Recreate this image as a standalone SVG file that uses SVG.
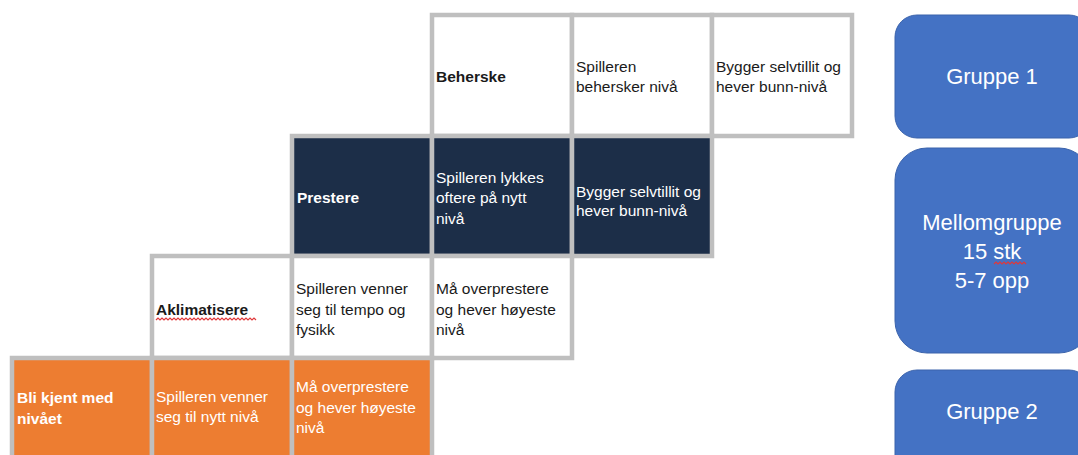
<svg xmlns="http://www.w3.org/2000/svg" width="1078" height="455" viewBox="0 0 1078 455">
<style>
.cell{stroke:#bfbfbf;stroke-width:4.5}
.w{fill:#ffffff}
.d{fill:#1c2e48}
.o{fill:#ed7d31}
.t{font-family:"Liberation Sans",Arial,sans-serif;font-size:15.5px}
.b{font-weight:bold}
.k{fill:#1a1a1a}
.wt{fill:#ffffff}
.grp{fill:#4472c4;stroke:#3b63ab;stroke-width:1}
.gt{font-family:"Liberation Sans",Arial,sans-serif;font-size:22px;fill:#ffffff;text-anchor:middle}
.wave{fill:none;stroke:#e0383a;stroke-width:1.2}
</style>
<rect width="1078" height="455" fill="#ffffff"/>

<!-- Row 1 -->
<g id="beherske"><rect class="cell w" x="432" y="15" width="140" height="121"/>
<text class="t b k" x="436" y="82">Beherske</text></g>
<g id="r1c2"><rect class="cell w" x="572" y="15" width="140" height="121"/>
<text class="t k" x="576" y="72">Spilleren</text><text class="t k" x="576" y="92">behersker nivå</text></g>
<g id="r1c3"><rect class="cell w" x="712" y="15" width="140" height="121"/>
<text class="t k" x="716" y="72">Bygger selvtillit og</text><text class="t k" x="716" y="92">hever bunn-nivå</text></g>

<!-- Row 2 -->
<g id="prestere"><rect class="cell d" x="292" y="136" width="140" height="120"/>
<text class="t b wt" x="297" y="203">Prestere</text></g>
<g id="r2c2"><rect class="cell d" x="432" y="136" width="140" height="120"/>
<text class="t wt" x="436" y="183">Spilleren lykkes</text><text class="t wt" x="436" y="203">oftere på nytt</text><text class="t wt" x="436" y="224">nivå</text></g>
<g id="r2c3"><rect class="cell d" x="572" y="136" width="140" height="120"/>
<text class="t wt" x="576" y="197">Bygger selvtillit og</text><text class="t wt" x="576" y="216">hever bunn-nivå</text></g>

<!-- Row 3 -->
<g id="aklimatisere"><rect class="cell w" x="152" y="256" width="140" height="102"/>
<text class="t b k" x="156" y="315">Aklimatisere</text>
<path class="wave" d="M156 320 l2 -2 l2 2 l2 -2 l2 2 l2 -2 l2 2 l2 -2 l2 2 l2 -2 l2 2 l2 -2 l2 2 l2 -2 l2 2 l2 -2 l2 2 l2 -2 l2 2 l2 -2 l2 2 l2 -2 l2 2 l2 -2 l2 2 l2 -2 l2 2 l2 -2 l2 2 l2 -2 l2 2 l2 -2 l2 2 l2 -2 l2 2 l2 -2 l2 2 l2 -2 l2 2 l2 -2 l2 2 l2 -2 l2 2 l2 -2 l2 2 l2 -2 l2 2 l2 -2 l2 2 l2 -2 l2 2"/></g>
<g id="r3c2"><rect class="cell w" x="292" y="256" width="140" height="102"/>
<text class="t k" x="296" y="294">Spilleren venner</text><text class="t k" x="296" y="315">seg til tempo og</text><text class="t k" x="296" y="335">fysikk</text></g>
<g id="r3c3"><rect class="cell w" x="432" y="256" width="140" height="102"/>
<text class="t k" x="436" y="294">Må overprestere</text><text class="t k" x="436" y="315">og hever høyeste</text><text class="t k" x="436" y="335">nivå</text></g>

<!-- Row 4 -->
<g id="bli-kjent"><rect class="cell o" x="12" y="358" width="140" height="112"/>
<text class="t b wt" x="17" y="403">Bli kjent med</text><text class="t b wt" x="17" y="424">nivået</text></g>
<g id="r4c2"><rect class="cell o" x="152" y="358" width="140" height="112"/>
<text class="t wt" x="156" y="402">Spilleren venner</text><text class="t wt" x="156" y="422">seg til nytt nivå</text></g>
<g id="r4c3"><rect class="cell o" x="292" y="358" width="140" height="112"/>
<text class="t wt" x="296" y="392">Må overprestere</text><text class="t wt" x="296" y="413">og hever høyeste</text><text class="t wt" x="296" y="433">nivå</text></g>

<!-- Group boxes -->
<g id="gruppe1"><rect class="grp" x="895" y="15" width="196" height="123" rx="22"/>
<text class="gt" x="992" y="84">Gruppe 1</text></g>
<g id="mellomgruppe"><rect class="grp" x="895" y="148" width="196" height="205" rx="32"/>
<text class="gt" x="992" y="230">Mellomgruppe</text><text class="gt" x="992" y="259">15 stk</text><text class="gt" x="992" y="288">5-7 opp</text>
<path class="wave" d="M994 264 l2 -2 l2 2 l2 -2 l2 2 l2 -2 l2 2 l2 -2 l2 2 l2 -2 l2 2 l2 -2 l2 2 l2 -2 l2 2 l2 -2 l2 2"/></g>
<g id="gruppe2"><rect class="grp" x="895" y="370" width="196" height="110" rx="22"/>
<text class="gt" x="992" y="419">Gruppe 2</text></g>
<g id="connectors"/>
</svg>
